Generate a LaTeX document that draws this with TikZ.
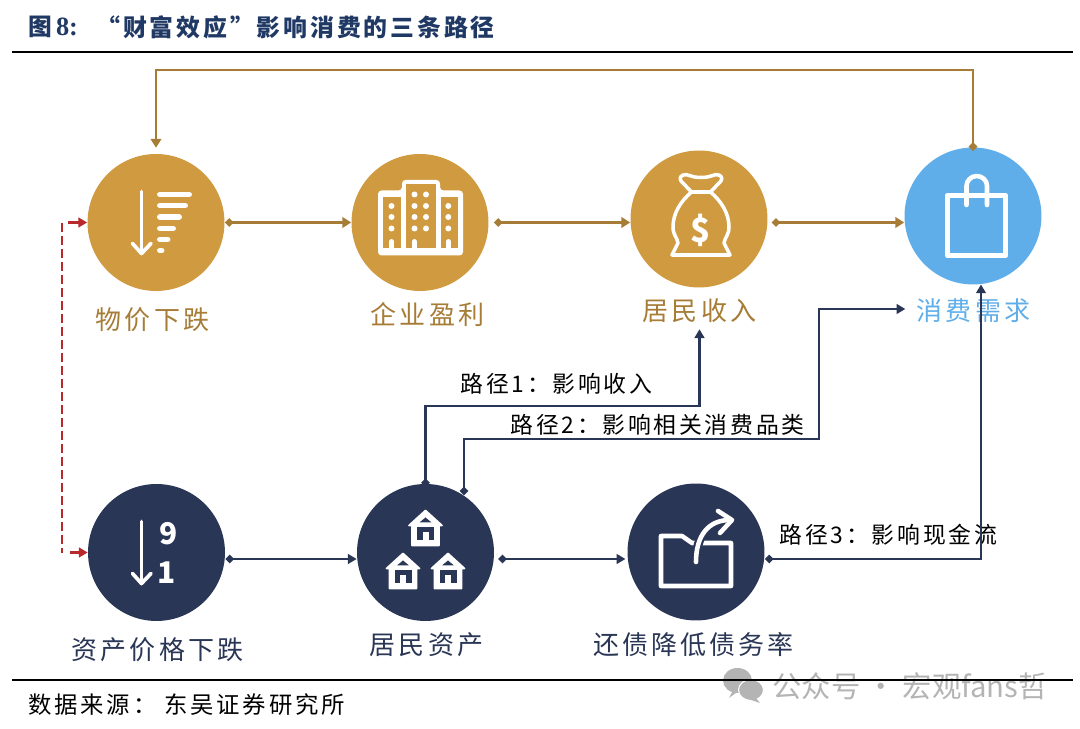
\documentclass[tikz,border=0pt]{standalone}
\usepackage{fontspec}
\setmainfont{Noto Sans CJK SC}
\newfontfamily\cjkwide[LetterSpace=12]{Noto Sans CJK SC}
\newfontfamily\latinserif{Liberation Serif}
\usetikzlibrary{arrows.meta}

\definecolor{goldfill}{HTML}{CF9A40}
\definecolor{golddark}{HTML}{A67C37}
\definecolor{skyblue}{HTML}{5FAEE9}
\definecolor{navyfill}{HTML}{2A3655}
\definecolor{titlenavy}{HTML}{1F3864}
\definecolor{redline}{HTML}{B9282A}
\definecolor{markgray}{HTML}{B4B4B4}

\tikzset{
    bigdot/.style={circle, inner sep=0pt, minimum size=2.74cm},
    goldline/.style={draw=golddark, line width=1.4pt, {Diamond[length=5pt,width=5pt]}-{Triangle[length=5pt,width=6pt]}},
    navyline/.style={draw=navyfill, line width=1.4pt, {Diamond[length=5pt,width=5pt]}-{Triangle[length=5pt,width=5.5pt]}},
    redarrow/.style={draw=redline, line width=1.4pt, -{Triangle[length=5pt,width=5.5pt]}},
    iconline/.style={white, line width=2.1pt, line cap=round, line join=round},
    bigtxt/.style={font=\cjkwide\fontsize{14.8}{16}\selectfont},
    pathtxt/.style={font=\cjkwide\fontsize{13}{15}\selectfont, black},
}

\begin{document}
\begin{tikzpicture}[x=0.02cm, y=-0.02cm]
    \useasboundingbox (0,0) rectangle (1080,729);

    % Title and rules
    \node[anchor=west, inner sep=0pt, titlenavy, font=\fontsize{13.5}{16}\selectfont\bfseries] (titlea) at (28,27) {图\,{\fontsize{15}{16}\selectfont\latinserif 8:}};
    \node[anchor=west, inner sep=0pt, titlenavy, font=\cjkwide\fontsize{13.6}{16}\selectfont\bfseries] (titleb) at (96,27) {“财富效应”影响消费的三条路径};
    \draw[black, line width=1.3pt] (12,52) -- (1073,52);

    % Watermark
    \fill[markgray] (737.5,680.5) ellipse (14.5 and 12.5);
    \fill[markgray] (733,690) -- (729,698) -- (740,690) -- cycle;
    \fill[markgray, draw=white, line width=0.6pt] (751,690) ellipse (12.5 and 10.5);
    \fill[markgray] (756,698) -- (760,703) -- (748,699) -- cycle;
    \node[anchor=west, inner sep=0pt, markgray, font=\fontsize{16.7}{18}\selectfont] (mark) at (772,686) {公众号 · 宏观fans哲};
    \draw[black, line width=1.3pt] (12,680) -- (1073,680);
    \node[anchor=west, inner sep=0pt, black, font=\cjkwide\fontsize{13.3}{15}\selectfont] (source) at (28,705) {数据来源： 东吴证券研究所};

    % Circles
    \node[bigdot, fill=goldfill] (wuj) at (156,222.5) {};
    \node[bigdot, fill=goldfill] (qiye) at (420,222.5) {};
    \node[bigdot, fill=goldfill] (shouru) at (699,219) {};
    \node[bigdot, fill=skyblue] (xiaofei) at (973,216) {};
    \node[bigdot, fill=navyfill] (ziliao) at (156.5,552.5) {};
    \node[bigdot, fill=navyfill] (zichan) at (425.5,552.5) {};
    \node[bigdot, fill=navyfill] (zhaiwu) at (696,552) {};

    % Circle labels
    \node[bigtxt, golddark] (wujtxt) at (152.5,320) {物价下跌};
    \node[bigtxt, golddark] (qiyetxt) at (427.5,315) {企业盈利};
    \node[bigtxt, golddark] (shourutxt) at (699.5,311) {居民收入};
    \node[bigtxt, skyblue] (xiaofeitxt) at (973.5,311) {消费需求};
    \node[bigtxt, navyfill] (ziliaotxt) at (157.5,650) {资产价格下跌};
    \node[bigtxt, navyfill] (zichantxt) at (426.5,645) {居民资产};
    \node[bigtxt, navyfill] (zhaiwutxt) at (693.5,645) {还债降低债务率};

    % Path labels
    \node[pathtxt] (pathone) at (556.5,384) {路径1：影响收入};
    \node[pathtxt] (pathtwo) at (657.5,425) {路径2：影响相关消费品类};
    \node[pathtxt] (paththree) at (888.5,535) {路径3：影响现金流};

    % Rails used by the connectors
    \coordinate (toprail) at (0,70);
    \coordinate (toprow) at (0,222.5);
    \coordinate (lowrow) at (0,559);
    \coordinate (railone) at (0,406);
    \coordinate (railtwo) at (0,439);
    \coordinate (railup) at (819,0);
    \coordinate (railhigh) at (0,309);
    \coordinate (rightdrop) at (981,0);

    % Gold connectors
    \draw[goldline] (wuj.east) -- (qiye.west);
    \draw[goldline, shorten <=2.8pt] (qiye.east) -- (shouru.west |- toprow);
    \draw[goldline, shorten <=2.2pt] (shouru.east |- toprow) -- (xiaofei.west |- toprow);
    \draw[goldline, shorten <=-2.2pt, shorten >=3.4pt] (xiaofei.north) -- (xiaofei.north |- toprail) -- (wuj.north |- toprail) -- (wuj.north);

    % Navy connectors
    \draw[navyline] (ziliao.east |- lowrow) -- (zichan.west |- lowrow);
    \draw[navyline, shorten <=2.2pt, shorten >=1pt] (zichan.east |- lowrow) -- (zhaiwu.west |- lowrow);
    \draw[navyline, shorten <=-2pt] (zichan.north) -- (zichan.north |- railone) -- (shourutxt.south |- railone) -- (shourutxt.south);
    \draw[navyline, shorten >=3pt] (zichan.56) -- (zichan.56 |- railtwo) -- (railup |- railtwo) -- (railup |- railhigh) -- (xiaofeitxt.west |- railhigh);
    \draw[navyline] (zhaiwu.east |- lowrow) -- (rightdrop |- lowrow) -- (rightdrop |- xiaofei.-84);

    % Red dashed link
    \coordinate (redtop) at (62,223);
    \coordinate (redbot) at (62,553);
    \coordinate (redtopin) at (68,222.5);
    \coordinate (redbotin) at (70,552.5);
    \draw[redline, line width=1.4pt, dash pattern=on 5pt off 2.4pt] (redtop) -- (redbot);
    \draw[redarrow] (redtopin) -- (wuj.west);
    \draw[redarrow] (redbotin) -- (ziliao.west);

    % Falling price icon
    \begin{scope}[shift={(wuj.center)}]
        \draw[iconline] (-14.5,-31) -- (-14.5,31);
        \draw[iconline] (-23.5,21) -- (-14.5,31) -- (-5,21);
        \foreach \rowy/\rowx in {-28/36, -17/32, -5.5/26, 6/20, 17/14.5, 28/8.5} {
            \draw[white, line width=3.4pt, line cap=round] (4,\rowy) -- (\rowx-3,\rowy);
        }
    \end{scope}

    % Office block icon
    \begin{scope}[shift={(qiye.center)}]
        \fill[white, rounded corners=2pt] (-42,33) -- (-42,-32) -- (-18,-32) -- (-18,-42.5) -- (20,-42.5) -- (20,-32) -- (43,-32) -- (43,33) -- cycle;
        \fill[goldfill] (-36.7,-25) rectangle (-19,26);
        \fill[goldfill] (-14,-38.5) rectangle (16,26);
        \fill[goldfill] (20.5,-25) rectangle (37.6,26);
        \foreach \winy in {-16.5, -5.5, 6} {
            \fill[white] (-28.5,\winy) circle (3);
            \fill[white] (28.3,\winy) circle (3);
        }
        \foreach \winy in {-28, -16.5, -5.5, 6} {
            \fill[white] (-5.5,\winy) circle (3);
            \fill[white] (6,\winy) circle (3);
        }
        \foreach \winx in {-28.5, -5.5, 28.3} {
            \draw[white, line width=2.8pt, line cap=round] (\winx,19) -- (\winx,27);
        }
    \end{scope}

    % Money bag icon
    \begin{scope}[shift={(shouru.center)}]
        \draw[iconline, line width=2pt] (-7.5,-27) -- (-18,-38) .. controls (-21,-44) and (-14,-46) .. (-8,-43) .. controls (-3,-41) and (7,-41) .. (12,-43) .. controls (18,-46) and (25,-44) .. (22,-38) -- (11.5,-27) -- cycle;
        \draw[iconline, line width=2pt] (-7.5,-27) .. controls (-18,-18) and (-26,-6) .. (-26,8) .. controls (-26,16) and (-22,18) .. (-21,24) -- (-27,36) -- (31,36) -- (25,24) .. controls (26,18) and (30,16) .. (30,8) .. controls (30,-6) and (22,-18) .. (11.5,-27);
        \node[white, inner sep=0pt, font=\fontsize{19}{20}\selectfont\bfseries] (dollar) at (2,11) {\$};
    \end{scope}

    % Shopping bag icon
    \begin{scope}[shift={(xiaofei.center)}]
        \draw[iconline, line width=3pt, line cap=butt] (-25.5,-20.5) rectangle (32.5,39.5);
        \draw[iconline, line width=2.6pt] (-6.5,-11) -- (-6.5,-30) arc[start angle=180, end angle=0, x radius=10.25, y radius=-10] -- (14,-11);
    \end{scope}

    % Falling asset price icon
    \begin{scope}[shift={(ziliao.center)}]
        \draw[iconline] (-15,-31) -- (-15,31);
        \draw[iconline] (-24,21) -- (-15,31) -- (-5.5,21);
        \node[white, inner sep=0pt, font=\fontsize{17}{20}\selectfont\bfseries] (nine) at (12,-19) {9};
        \node[white, inner sep=0pt, font=\fontsize{17}{20}\selectfont\bfseries] (one) at (10,20) {1};
    \end{scope}

    % Houses icon
    \begin{scope}[shift={(zichan.center)}]
        \foreach \hx/\hy in {0/-24, -22.5/19, 22.5/19} {
            \begin{scope}[shift={(\hx,\hy)}]
                \fill[white, draw=white, line width=1pt, line join=round] (0,-18) -- (16.5,-3) -- (13.5,-3) -- (13.5,17) -- (-13.5,17) -- (-13.5,-3) -- (-16.5,-3) -- cycle;
                \fill[navyfill] (0,-11) -- (6,-6) -- (-6,-6) -- cycle;
                \fill[navyfill] (-8.5,-1.5) rectangle (8.5,12);
                \fill[white] (-3,4) rectangle (3,12);
            \end{scope}
        }
    \end{scope}

    % Repayment icon
    \begin{scope}[shift={(zhaiwu.center)}]
        \draw[iconline, line width=2.6pt] (-35,-16) -- (-14,-16) -- (-4,-9) -- (35,-9) -- (35,34) -- (-35,34) -- cycle;
        \draw[navyfill, line width=5pt] (0,10) .. controls (0,-16) and (12,-32) .. (34,-32);
        \draw[iconline, line width=2.6pt] (0,10) .. controls (0,-16) and (12,-32) .. (34,-32);
        \draw[iconline, line width=2.6pt] (22,-41) -- (36,-32) -- (24,-19);
    \end{scope}
\end{tikzpicture}
\end{document}
